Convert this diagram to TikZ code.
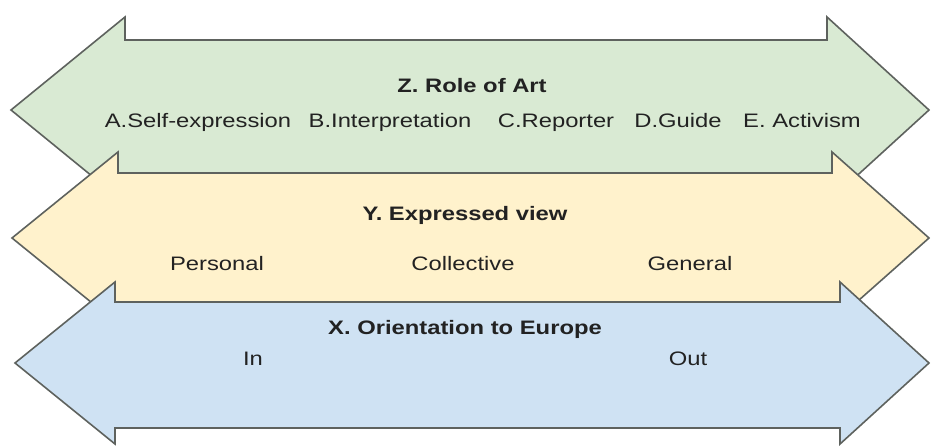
\documentclass[tikz,border=0pt]{standalone}
\usepackage{fontspec}
\setmainfont{Liberation Sans}
\newfontfamily\labfont[FakeStretch=1.22]{Liberation Sans}
\definecolor{zgreen}{HTML}{D9EAD3}
\definecolor{yyellow}{HTML}{FFF2CC}
\definecolor{xblue}{HTML}{CFE2F3}
\definecolor{edge}{HTML}{5E625E}
\definecolor{ink}{HTML}{222222}
\begin{document}
\begin{tikzpicture}[x=1pt,y=-1pt,
  band/.style={draw=edge,line width=1.6pt,line join=miter},
  ttl/.style={anchor=base,inner sep=0pt,text=ink,font=\labfont\fontsize{19.5}{22}\selectfont\bfseries},
  itm/.style={anchor=base,inner sep=0pt,text=ink,font=\labfont\fontsize{19.5}{22}\selectfont}]
\useasboundingbox (0,0) rectangle (931,446);
% Z band
\draw[band,fill=zgreen] (11,110) -- (125,17) -- (125,40) -- (827,40) -- (827,17) -- (929,110)
  -- (827,203) -- (827,173) -- (125,173) -- (125,203) -- cycle;
% Y band
\draw[band,fill=yyellow] (12,238) -- (118,152) -- (118,173) -- (832,173) -- (832,152) -- (929,238)
  -- (832,324) -- (832,302) -- (118,302) -- (118,324) -- cycle;
% X band
\draw[band,fill=xblue] (15,363) -- (115,282) -- (115,302) -- (840,302) -- (840,282) -- (929,363)
  -- (840,444) -- (840,428) -- (115,428) -- (115,444) -- cycle;
% texts
\node[ttl] (zt) at (472,93) {Z. Role of Art};
\node[itm] (za) at (198,128) {A.Self-expression};
\node[itm] (zb) at (390,128) {B.Interpretation};
\node[itm] (zc) at (556,128) {C.Reporter};
\node[itm] (zd) at (678,128) {D.Guide};
\node[itm] (ze) at (802,128) {E. Activism};
\node[ttl] (yt) at (465,221) {Y. Expressed view};
\node[itm] (yp) at (217,270) {Personal};
\node[itm] (yc) at (463,270) {Collective};
\node[itm] (yg) at (690,270) {General};
\node[ttl] (xt) at (465,334) {X. Orientation to Europe};
\node[itm] (xi) at (253,365) {In};
\node[itm] (xo) at (688,365) {Out};
\end{tikzpicture}
\end{document}
